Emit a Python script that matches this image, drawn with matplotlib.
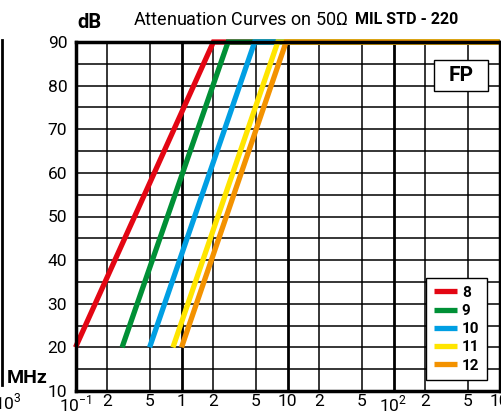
import matplotlib.pyplot as plt
from matplotlib.lines import Line2D
from matplotlib.patches import Rectangle
import numpy as np

# cable types and their attenuation curves (frequency MHz, dB)
cables = ["8", "9", "10", "11", "12"]
colors = ["#e30613", "#009036", "#009fe3", "#ffe500", "#f39200"]
freq_start = [0.1, 0.275, 0.5, 0.83, 1.0]
freq_top = [2.0, 2.75, 4.9, 8.1, 9.7]
db_start = [20, 20, 20, 20, 20]
db_top = [90, 90, 90, 90, 90]
freq_end = 1000

xtick_pos = [0.1, 0.2, 0.5, 1, 2, 5, 10, 20, 50, 100, 200, 500, 1000]
xtick_lab = ["$10^{-1}$", "2", "5", "1", "2", "5", "10", "2", "5", "$10^2$", "2", "5", "10"]
ytick_pos = [10, 20, 30, 40, 50, 60, 70, 80, 90]

fam = ["Roboto", "DejaVu Sans"]
plt.rcParams['font.family'] = fam
plt.rcParams['mathtext.fontset'] = 'custom'
plt.rcParams['mathtext.rm'] = 'Roboto'

fig = plt.figure(figsize=(5.01, 4.12), dpi=100)
ax = fig.add_axes([75.5/501, 1-391/412, (499.5-75.5)/501, (391-42)/412])
ax.set_xscale("log")
ax.set_xlim(0.1, 1000)
ax.set_ylim(10, 90)

# grid
for d in [1, 10, 100]:
    ax.axvline(d, color="black", lw=2.0, zorder=1)
for d in [0.2, 0.5, 2, 5, 20, 50, 200, 500]:
    ax.axvline(d, color="black", lw=1.1, zorder=1)
for v in np.arange(15, 90, 5):
    ax.axhline(v, color="black", lw=1.1, zorder=1)

for i in range(len(cables)):
    ax.plot([freq_start[i], freq_top[i], freq_end], [db_start[i], db_top[i], db_top[i]],
            color=colors[i], lw=3.8, solid_capstyle="butt", solid_joinstyle="miter",
            label=cables[i], zorder=3, clip_on=False)

for s in ax.spines.values():
    s.set_linewidth(2.5)
    s.set_zorder(4)

ax.set_xticks(xtick_pos)
ax.set_xticklabels(xtick_lab)
ax.xaxis.set_minor_locator(plt.NullLocator())
ax.set_yticks(ytick_pos)
ax.tick_params(length=0, labelsize=12.5)
ax.tick_params(axis="x", pad=2)
ax.tick_params(axis="y", pad=6)

leg = ax.legend(loc="upper right", bbox_to_anchor=((487-75.5)/424, (391-278)/349),
                fancybox=False, framealpha=1, edgecolor="black", handlelength=1.5,
                handletextpad=0.35, borderpad=0.5, labelspacing=0.28, borderaxespad=0,
                prop={"weight": "bold", "size": 11, "family": fam})
leg.get_frame().set_linewidth(1.0)
leg.set_zorder(5)

# FP box
x0, x1 = (434-75.5)/424, (488-75.5)/424
y0, y1 = (391-91)/349, (391-60)/349
ax.add_patch(Rectangle((x0, y0), x1-x0, y1-y0, transform=ax.transAxes,
                       fc="white", ec="black", lw=1.0, zorder=6, clip_on=False))
ax.text((x0+x1)/2, (y0+y1)/2, "FP", transform=ax.transAxes, ha="center", va="center",
        fontsize=15, fontweight="bold", zorder=7)

fig.text(77/501, 1-22/412, "dB", fontsize=14.5, fontweight="bold", ha="left", va="center")
fig.text(47/501, 1-378/412, "MHz", fontsize=14, fontweight="bold", ha="right", va="center")
fig.text(348/501, 1-20/412, "Attenuation Curves on 50$\\Omega$", fontsize=13,
         ha="right", va="center")
fig.text(355/501, 1-20/412, "MIL STD - 220", fontsize=11.5, fontweight="bold",
         ha="left", va="center")

# edge of the neighbouring chart
fig.add_artist(Line2D([2/501, 2/501], [1-385/412, 1-40/412], color="black", lw=2))
fig.text(-6/501, 1-402/412, "$10^3$", fontsize=12.5, ha="left", va="center")

fig.savefig("out.png", dpi=100)
